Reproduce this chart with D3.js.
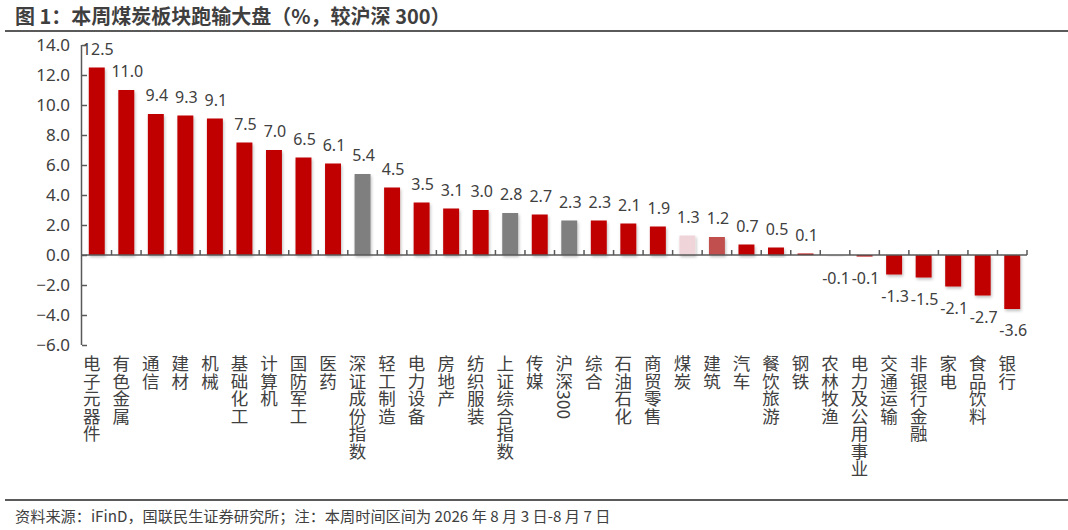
<!DOCTYPE html>
<html>
<head>
<meta charset="utf-8">
<script src="https://cdn.jsdelivr.net/npm/d3@7"></script>
<style>
  body { margin: 0; background: #fff; }
  text { font-family: "Noto Sans CJK SC", "Noto Sans", sans-serif; }
</style>
</head>
<body>
<script>
var categories = ['电子元器件', '有色金属', '通信', '建材', '机械', '基础化工', '计算机', '国防军工', '医药',
    '深证成份指数', '轻工制造', '电力设备', '房地产', '纺织服装', '上证综合指数', '传媒', '沪深300', '综合',
    '石油石化', '商贸零售', '煤炭', '建筑', '汽车', '餐饮旅游', '钢铁', '农林牧渔', '电力及公用事业',
    '交通运输', '非银行金融', '家电', '食品饮料', '银行'];
var values = [12.5, 11.0, 9.4, 9.3, 9.1, 7.5, 7.0, 6.5, 6.1,
    5.4, 4.5, 3.5, 3.1, 3.0, 2.8, 2.7, 2.3, 2.3,
    2.1, 1.9, 1.3, 1.2, 0.7, 0.5, 0.1, -0.1, -0.1,
    -1.3, -1.5, -2.1, -2.7, -3.6];
var indexNames = ['深证成份指数', '上证综合指数', '沪深300'];
var yTicks = [14, 12, 10, 8, 6, 4, 2, 0, -2, -4, -6];
var title = '图 1：本周煤炭板块跑输大盘（%，较沪深 300）';
var source = '资料来源：iFinD，国联民生证券研究所；注：本周时间区间为 2026 年 8 月 3 日-8 月 7 日';

var width = 1068,
    height = 530;
var svg = d3.select('body')
    .append('svg')
    .attr('width', width)
    .attr('height', height);

//soft shadow under the bars
var defs = svg.append('defs');
defs.append('filter')
    .attr('id', 'shadow')
    .attr('x', '-20%').attr('y', '-20%')
    .attr('width', '150%').attr('height', '150%')
    .append('feDropShadow')
    .attr('dx', 1).attr('dy', 2)
    .attr('stdDeviation', 1.5)
    .attr('flood-color', '#000')
    .attr('flood-opacity', 0.25);

//title and the two rules
svg.append('text')
    .attr('x', 15)
    .attr('y', 24)
    .style('font-size', '20px')
    .style('font-weight', '700')
    .style('fill', '#3f3f3f')
    .text(title);
svg.append('line')
    .attr('x1', 5).attr('x2', width)
    .attr('y1', 31).attr('y2', 31)
    .style('stroke', '#5a5a5a')
    .style('stroke-width', 2);
svg.append('line')
    .attr('x1', 5).attr('x2', width)
    .attr('y1', 500).attr('y2', 500)
    .style('stroke', '#5a5a5a')
    .style('stroke-width', 2);
svg.append('text')
    .attr('x', 15)
    .attr('y', 522)
    .style('font-size', '15.2px')
    .style('fill', '#404040')
    .text(source);

var x = d3.scaleBand()
    .domain(categories)
    .range([82, 1027])
    .paddingInner(0.46)
    .paddingOuter(0.23);
var y = d3.scaleLinear()
    .domain([-6, 14])
    .range([345, 45]);

var barColor = function (name) {
    if (indexNames.indexOf(name) >= 0) return '#7f7f7f';
    if (name === '煤炭') return '#efd5d9';
    if (name === '建筑') return '#c0504d';
    if (name === '农林牧渔') return '#f4eef0';
    return '#c00000';
};

//bars
svg.append('g')
    .selectAll('rect')
    .data(values)
    .enter()
    .append('rect')
    .attr('x', function (d, i) { return x(categories[i]); })
    .attr('width', x.bandwidth())
    .attr('y', function (d) { return y(Math.max(d, 0)); })
    .attr('height', function (d) { return Math.abs(y(d) - y(0)); })
    .attr('filter', 'url(#shadow)')
    .style('fill', function (d, i) { return barColor(categories[i]); });

//value labels
svg.append('g')
    .selectAll('text')
    .data(values)
    .enter()
    .append('text')
    .attr('x', function (d, i) { return x(categories[i]) + x.bandwidth() / 2 + 1; })
    .attr('y', function (d) { return d >= 0 ? y(d) - 13 : y(d) + 27; })
    .attr('text-anchor', 'middle')
    .style('font-family', '"Noto Sans", sans-serif')
    .style('font-size', '16px')
    .style('fill', '#404040')
    .text(function (d) { return d.toFixed(1); });

//y axis
var yAxis = d3.axisLeft(y)
    .tickValues(yTicks)
    .tickSize(-5)
    .tickPadding(12)
    .tickFormat(d3.format('.1f'));
var gy = svg.append('g')
    .attr('transform', 'translate(82,0)')
    .call(yAxis);
gy.select('.domain').attr('d', 'M-0.5,' + y(14) + 'V' + y(-6)).style('stroke', '#595959').style('stroke-width', 1.5);
gy.selectAll('.tick line').style('stroke', '#595959').style('stroke-width', 1.5);
gy.selectAll('.tick text')
    .style('font-family', '"Noto Sans", sans-serif')
    .style('font-size', '17px')
    .style('fill', '#404040');

//x axis along zero, with ticks at band boundaries pointing up
var gx = svg.append('g');
gx.append('line')
    .attr('x1', 82).attr('x2', 1027)
    .attr('y1', y(0)).attr('y2', y(0))
    .style('stroke', '#595959')
    .style('stroke-width', 1.5);
var step = x.step();
gx.selectAll('.xtick')
    .data(categories)
    .enter()
    .append('line')
    .attr('class', 'xtick')
    .attr('x1', function (d) { return x(d) - x.paddingOuter() * step + step; })
    .attr('x2', function (d) { return x(d) - x.paddingOuter() * step + step; })
    .attr('y1', y(0))
    .attr('y2', y(0) - 5)
    .style('stroke', '#595959')
    .style('stroke-width', 1.5);

//vertical category labels
svg.append('g')
    .selectAll('text')
    .data(categories)
    .enter()
    .append('text')
    .attr('x', function (d) { return x(d) + x.bandwidth() / 2 - 5; })
    .attr('y', 355)
    .style('writing-mode', 'vertical-rl')
    .style('font-size', '17.5px')
    .style('fill', '#404040')
    .text(function (d) { return d; });
</script>
</body>
</html>
